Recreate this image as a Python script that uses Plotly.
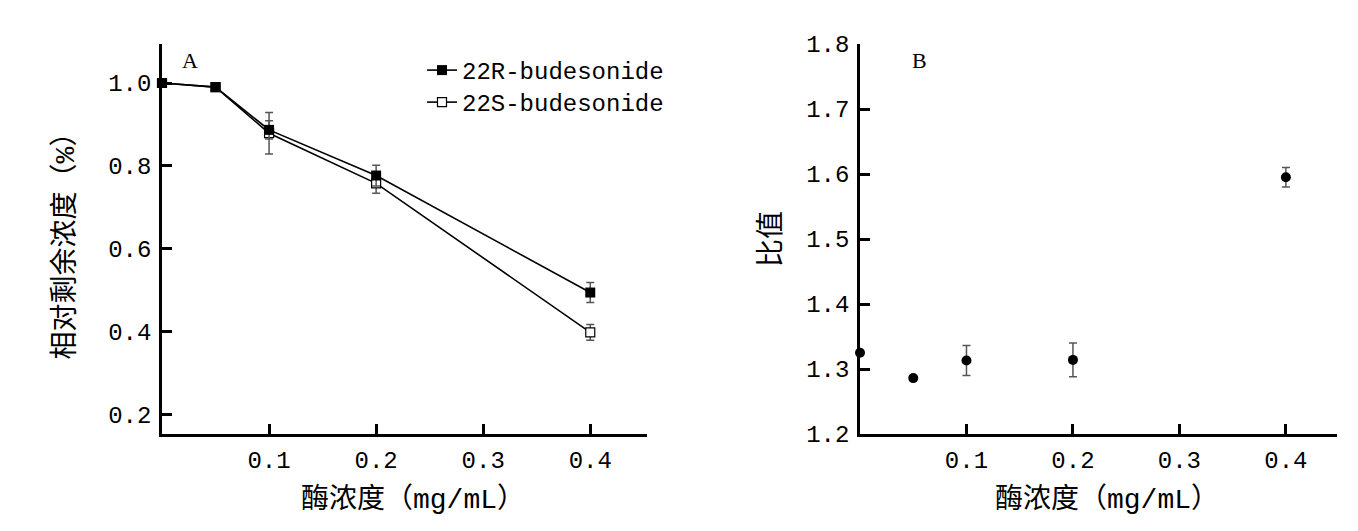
import plotly.graph_objects as go

# ---- data ----
enzyme_conc = [0, 0.05, 0.1, 0.2, 0.4]
r_values = [1.0, 0.99, 0.887, 0.777, 0.495]
r_errors = [0, 0, 0.022, 0.025, 0.024]
s_values = [1.0, 0.99, 0.879, 0.758, 0.399]
s_errors = [0, 0, 0.05, 0.024, 0.019]
ratio_values = [1.325, 1.286, 1.313, 1.314, 1.595]
ratio_errors = [0, 0, 0.023, 0.026, 0.015]

x_ticks = [0.1, 0.2, 0.3, 0.4]
x_tick_labels = ["0.1", "0.2", "0.3", "0.4"]
left_y_ticks = [0.2, 0.4, 0.6, 0.8, 1.0]
left_y_labels = ["0.2", "0.4", "0.6", "0.8", "1.0"]
right_y_ticks = [1.2, 1.3, 1.4, 1.5, 1.6, 1.7, 1.8]
right_y_labels = ["1.2", "1.3", "1.4", "1.5", "1.6", "1.7", "1.8"]

series_names = ["22R-budesonide", "22S-budesonide"]
x_title = "酶浓度（mg/mL）"
left_y_title = "相对剩余浓度（%）"
right_y_title = "比值"
panel_labels = ["A", "B"]

FONT = "Liberation Mono, Noto Sans CJK SC, monospace"
W, H = 1358, 531
OFF = 8  # page body margin


def px(x):
    return (x - OFF) / W


def py(y):
    return (H - (y - OFF)) / H


fig = go.Figure()

fig.add_trace(go.Scatter(
    x=enzyme_conc, y=s_values, name=series_names[1], mode="lines+markers",
    line=dict(color="black", width=1.6),
    marker=dict(symbol="square", size=9, color="white", line=dict(color="black", width=1.2)),
    error_y=dict(type="data", array=s_errors, color="#555555", thickness=1.5, width=4),
    xaxis="x", yaxis="y", legend="legend2", cliponaxis=False,
))
fig.add_trace(go.Scatter(
    x=enzyme_conc, y=r_values, name=series_names[0], mode="lines+markers",
    line=dict(color="black", width=1.6),
    marker=dict(symbol="square", size=10, color="black"),
    error_y=dict(type="data", array=r_errors, color="#555555", thickness=1.5, width=4),
    xaxis="x", yaxis="y", legend="legend", cliponaxis=False,
))
fig.add_trace(go.Scatter(
    x=enzyme_conc, y=ratio_values, mode="markers", showlegend=False,
    marker=dict(symbol="circle", size=10, color="black"),
    error_y=dict(type="data", array=ratio_errors, color="#555555", thickness=1.5, width=4),
    xaxis="x2", yaxis="y2", cliponaxis=False,
))

ydom = [py(434), py(44)]
axis_common = dict(
    showline=True, linecolor="black", linewidth=2.5, mirror=False,
    ticks="inside", ticklen=10, tickwidth=2.5, tickcolor="black",
    showgrid=False, zeroline=False, automargin=False,
    tickfont=dict(family=FONT, size=24, color="black"),
    title_font=dict(family=FONT, size=28, color="black"),
)
legend_common = dict(
    xanchor="left", yanchor="top",
    font=dict(family=FONT, size=24, color="black"),
    bgcolor="rgba(0,0,0,0)", itemwidth=30,
)
title_font = dict(family=FONT, size=28, color="black")

fig.update_layout(
    width=W, height=H,
    margin=dict(l=0, r=0, t=0, b=0, pad=0, autoexpand=False),
    paper_bgcolor="white", plot_bgcolor="white",
    showlegend=True,
    legend=dict(x=px(422), y=py(48), **legend_common),
    legend2=dict(x=px(422), y=py(80), **legend_common),
    xaxis=dict(
        domain=[px(162), px(647)], range=[0, 0.453], anchor="y",
        tickvals=x_ticks, ticktext=x_tick_labels, ticklabelstandoff=2,
        **axis_common,
    ),
    yaxis=dict(
        domain=ydom, range=[0.154, 1.094], anchor="x",
        tickvals=left_y_ticks, ticktext=left_y_labels, ticklabelstandoff=3,
        title=dict(text=left_y_title, standoff=26),
        **axis_common,
    ),
    xaxis2=dict(
        domain=[px(860), px(1337)], range=[0, 0.448], anchor="y2",
        tickvals=x_ticks, ticktext=x_tick_labels, ticklabelstandoff=2,
        **axis_common,
    ),
    yaxis2=dict(
        domain=ydom, range=[1.2, 1.8], anchor="x2",
        tickvals=right_y_ticks, ticktext=right_y_labels, ticklabelstandoff=3,
        title=dict(text=right_y_title, standoff=18),
        **axis_common,
    ),
    annotations=[
        dict(text=panel_labels[0], x=px(190), y=py(60), xref="paper", yref="paper",
             xanchor="center", yanchor="middle", showarrow=False,
             font=dict(family="Liberation Serif, serif", size=22, color="black")),
        dict(text=panel_labels[1], x=px(920), y=py(60), xref="paper", yref="paper",
             xanchor="center", yanchor="middle", showarrow=False,
             font=dict(family="Liberation Serif, serif", size=22, color="black")),
        dict(text=x_title, x=px(413), y=py(499), xref="paper", yref="paper",
             xanchor="center", yanchor="middle", showarrow=False, font=title_font),
        dict(text=x_title, x=px(1107), y=py(499), xref="paper", yref="paper",
             xanchor="center", yanchor="middle", showarrow=False, font=title_font),
    ],
)

fig.write_html("out.html")
